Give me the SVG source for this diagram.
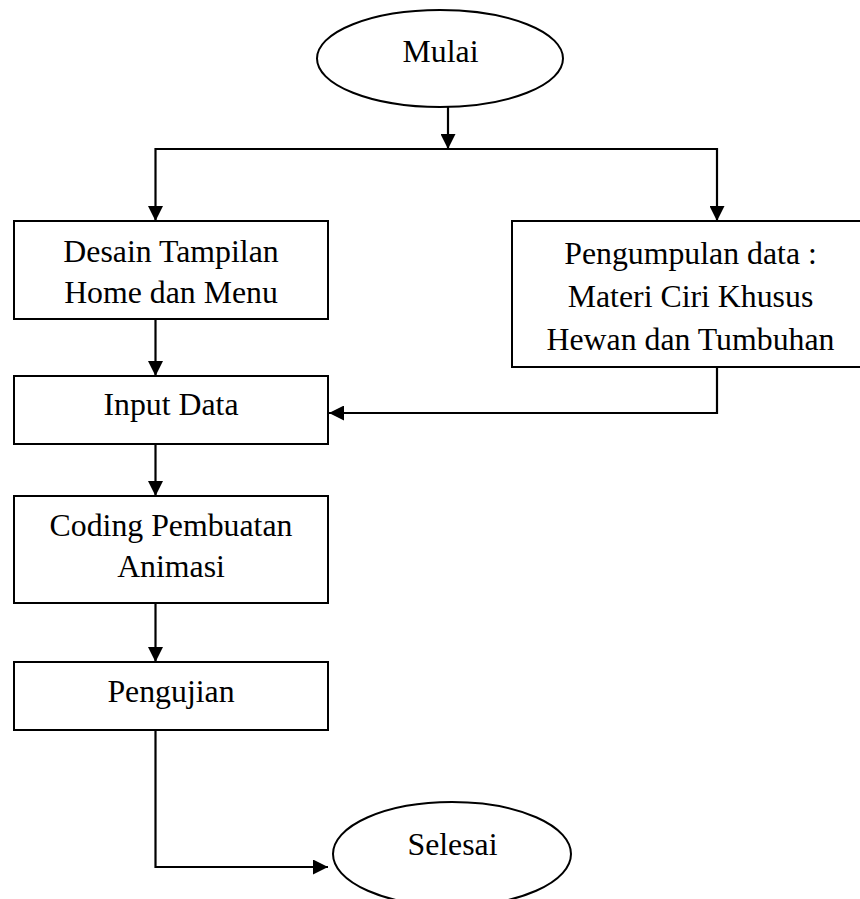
<svg xmlns="http://www.w3.org/2000/svg" width="860" height="899" viewBox="0 0 860 899">
  <defs>
    <marker id="arrow" markerUnits="userSpaceOnUse" markerWidth="15" markerHeight="15" refX="15" refY="7.5" orient="auto">
      <path d="M0,0 L15,7.5 L0,15 Z" fill="#000"/>
    </marker>
  </defs>
  <style>
    .shape { fill: #fff; stroke: #000; stroke-width: 2; }
    .wire { fill: none; stroke: #000; stroke-width: 2.2; }
    .lbl { font-family: "Liberation Serif", "Times New Roman", serif; font-size: 31.8px; fill: #000; text-anchor: middle; }
  </style>
  <rect width="860" height="899" fill="#fff"/>

  <!-- connectors -->
  <g id="connectors">
    <path class="wire" d="M448,107 V149" marker-end="url(#arrow)"/>
    <path class="wire" d="M155.5,149 H717"/>
    <path class="wire" d="M155.5,148 V221" marker-end="url(#arrow)"/>
    <path class="wire" d="M717,148 V221" marker-end="url(#arrow)"/>
    <path class="wire" d="M155.5,319 V376" marker-end="url(#arrow)"/>
    <path class="wire" d="M717,367 V413 H329" marker-end="url(#arrow)"/>
    <path class="wire" d="M155.5,444 V496" marker-end="url(#arrow)"/>
    <path class="wire" d="M155.5,603 V662" marker-end="url(#arrow)"/>
    <path class="wire" d="M155.5,730 V867 H328" marker-end="url(#arrow)"/>
  </g>

  <!-- start terminator -->
  <g id="mulai">
    <ellipse class="shape" cx="440" cy="58.5" rx="123" ry="48.5"/>
    <text class="lbl" x="440.5" y="62">Mulai</text>
  </g>

  <!-- process steps -->
  <g id="desain">
    <rect class="shape" x="14" y="221" width="314" height="98"/>
    <text class="lbl" x="171" y="262">Desain Tampilan</text>
    <text class="lbl" x="171" y="303">Home dan Menu</text>
  </g>

  <g id="pengumpulan">
    <rect class="shape" x="512" y="221" width="357" height="146"/>
    <text class="lbl" x="690.5" y="264">Pengumpulan data :</text>
    <text class="lbl" x="690.5" y="307">Materi Ciri Khusus</text>
    <text class="lbl" x="690.5" y="350">Hewan dan Tumbuhan</text>
  </g>

  <g id="input-data">
    <rect class="shape" x="14" y="376" width="314" height="68"/>
    <text class="lbl" x="171" y="415">Input Data</text>
  </g>

  <g id="coding">
    <rect class="shape" x="14" y="496" width="314" height="107"/>
    <text class="lbl" x="171" y="536">Coding Pembuatan</text>
    <text class="lbl" x="171" y="577">Animasi</text>
  </g>

  <g id="pengujian">
    <rect class="shape" x="14" y="662" width="314" height="68"/>
    <text class="lbl" x="171" y="702">Pengujian</text>
  </g>

  <!-- end terminator -->
  <g id="selesai">
    <ellipse class="shape" cx="452" cy="854" rx="119" ry="52"/>
    <text class="lbl" x="452.5" y="855">Selesai</text>
  </g>
</svg>
